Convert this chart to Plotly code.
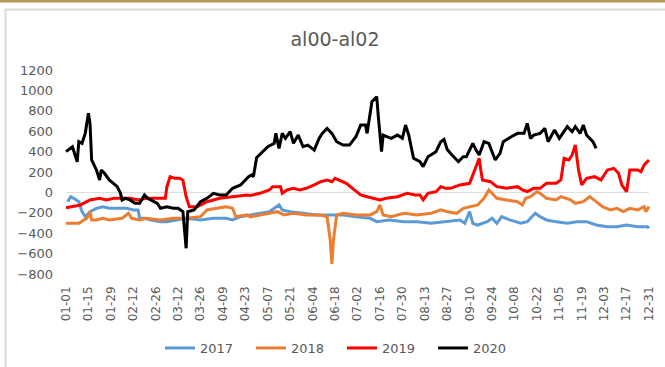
import pandas as pd
import plotly.graph_objects as go

# Calendar-day categories (MM-DD) for a 365-day year
categories = pd.date_range("2019-01-01", "2019-12-31", freq="D").strftime("%m-%d").tolist()
tick_labels = categories[::14]

# Spread al00-al02 by year: day-of-year index and value
days_2017 = [1, 3, 5, 8, 10, 12, 15, 19, 23, 27, 34, 38, 42, 45, 46, 49, 53, 59, 63, 69, 75, 84, 92,
             100, 104, 109, 115, 121, 127, 130, 133, 135, 140, 148, 156, 165, 173, 181, 190, 194,
             202, 211, 219, 228, 234, 240, 246, 249, 252, 254, 257, 263, 266, 269, 272, 277, 284,
             288, 293, 296, 300, 306, 313, 319, 325, 331, 338, 344, 350, 357, 363, 364]
vals_2017 = [-91, -42, -60, -91, -189, -238, -189, -156, -140, -156, -156, -156, -172, -172, -254,
             -254, -270, -287, -287, -270, -254, -270, -254, -254, -270, -238, -221, -205, -189,
             -156, -123, -172, -189, -205, -221, -221, -221, -238, -254, -287, -270, -287, -287,
             -303, -290, -280, -270, -303, -189, -303, -320, -287, -254, -303, -238, -270, -303,
             -287, -205, -238, -270, -287, -303, -287, -287, -320, -336, -336, -320, -336, -336, -352]

days_2018 = [0, 8, 13, 15, 16, 19, 23, 27, 35, 39, 41, 46, 50, 59, 67, 75, 84, 88, 94, 100, 104,
             106, 113, 115, 121, 127, 132, 136, 142, 150, 159, 163, 165, 166, 167, 169, 173, 181,
             190, 194, 196, 198, 203, 211, 219, 228, 234, 238, 244, 248, 252, 257, 261, 264, 266,
             269, 275, 282, 285, 287, 290, 294, 296, 300, 306, 309, 315, 318, 323, 327, 331, 335,
             340, 344, 348, 352, 357, 361, 362, 364]
vals_2018 = [-303, -303, -254, -189, -270, -270, -254, -270, -254, -205, -254, -270, -254, -270,
             -254, -254, -238, -172, -156, -140, -156, -238, -221, -240, -221, -205, -189, -221,
             -205, -221, -221, -238, -466, -700, -466, -221, -205, -221, -221, -189, -123, -221,
             -238, -205, -221, -205, -170, -189, -205, -156, -140, -123, -58, 24, -9, -58, -74,
             -91, -123, -58, -42, 7, -9, -58, -74, -42, -74, -107, -91, -42, -91, -140, -172,
             -156, -189, -156, -172, -140, -189, -140]

days_2019 = [0, 9, 15, 21, 25, 30, 35, 40, 45, 50, 55, 62, 63, 65, 68, 71, 73, 75, 77, 82, 88, 96,
             104, 113, 115, 121, 127, 129, 134, 135, 138, 142, 146, 150, 155, 159, 163, 166, 168,
             170, 175, 180, 184, 188, 192, 196, 200, 207, 213, 218, 221, 223, 226, 231, 234, 237,
             240, 246, 252, 255, 258, 259, 260, 265, 269, 275, 282, 285, 288, 292, 296, 300, 306,
             309, 311, 314, 316, 318, 320, 322, 325, 330, 334, 338, 342, 345, 347, 350, 352, 357,
             359, 361, 364]
vals_2019 = [-150, -123, -74, -58, -74, -58, -58, -58, -74, -58, -58, -58, 56, 154, 138, 138, 120,
             -42, -140, -140, -91, -58, -42, -25, -30, -9, 24, 56, 56, -9, 24, 40, 24, 40, 73, 105,
             122, 105, 138, 122, 89, 24, -25, -42, -58, -74, -58, -42, -9, -25, -25, -74, -9, 7,
             56, 40, 40, 73, 89, 220, 334, 220, 122, 105, 56, 40, 56, 24, 7, 40, 40, 89, 89, 122,
             334, 318, 367, 464, 220, 73, 138, 154, 122, 220, 236, 187, 73, 7, 220, 220, 203, 269,
             318]

days_2020 = [0, 4, 7, 8, 10, 12, 14, 15, 16, 19, 21, 22, 24, 27, 32, 34, 35, 37, 40, 43, 46, 49,
             51, 57, 59, 63, 67, 70, 73, 75, 76, 80, 84, 88, 92, 96, 100, 104, 109, 112, 114, 116,
             117, 119, 123, 126, 130, 131, 133, 135, 137, 140, 142, 145, 148, 151, 155, 158, 160,
             163, 166, 169, 173, 177, 181, 184, 187, 188, 191, 194, 195, 197, 198, 203, 207, 210,
             212, 214, 217, 221, 223, 226, 231, 234, 236, 238, 241, 245, 248, 250, 254, 256, 258,
             261, 264, 268, 271, 273, 278, 282, 286, 288, 290, 292, 296, 299, 301, 305, 308, 313,
             316, 318, 321, 323, 325, 329, 331]
vals_2020 = [400, 448, 300, 497, 481, 579, 775, 677, 318, 220, 122, 220, 187, 122, 56, -9, -74, -58,
             -74, -107, -107, -25, -58, -107, -156, -140, -156, -156, -189, -548, -189, -172, -91,
             -58, -9, -25, -25, 40, 73, 122, 154, 171, 154, 340, 399, 448, 481, 579, 432, 579, 530,
             595, 481, 562, 448, 464, 415, 530, 579, 628, 579, 497, 464, 464, 546, 660, 660, 579,
             889, 938, 742, 399, 562, 530, 562, 530, 660, 562, 334, 301, 252, 350, 399, 497, 520,
             420, 367, 301, 350, 350, 481, 415, 367, 497, 481, 318, 383, 497, 546, 579, 579, 677,
             530, 562, 579, 628, 497, 611, 530, 644, 595, 644, 579, 660, 562, 497, 432]

series = [
    ("2017", days_2017, vals_2017, "#5B9BD5"),
    ("2018", days_2018, vals_2018, "#ED7D31"),
    ("2019", days_2019, vals_2019, "#FF0000"),
    ("2020", days_2020, vals_2020, "#000000"),
]

W, H = 665, 367
ML, MR, MT, MB = 60, 10, 70, 93
PW, PH = W - ML - MR, H - MT - MB


def px_x(p):
    return (p - ML) / PW


def px_y(p):
    return (H - MB - p) / PH


fig = go.Figure()
for name, days, vals, color in series:
    fig.add_trace(go.Scatter(
        x=[categories[d] for d in days], y=vals, name=name, mode="lines",
        line=dict(color=color, width=3),
    ))

grey = "#595959"
fig.update_layout(
    width=W, height=H,
    margin=dict(l=ML, r=MR, t=MT, b=MB, autoexpand=False),
    paper_bgcolor="white", plot_bgcolor="white",
    font=dict(family="DejaVu Sans", color=grey),
    title=dict(text="al00-al02", x=335 / W, xanchor="center",
               y=1 - 39 / H, yanchor="middle",
               font=dict(size=19, color=grey, family="DejaVu Sans")),
    xaxis=dict(
        type="category", categoryorder="array", categoryarray=categories,
        range=[-3.75, 367.75], tickvals=tick_labels, ticktext=tick_labels,
        tickangle=-90, tickfont=dict(size=12, color=grey), ticks="",
        ticklabelstandoff=9, showgrid=False, zeroline=False, showline=False,
        automargin=False,
    ),
    yaxis=dict(
        range=[-800, 1200], dtick=200, tickfont=dict(size=13, color=grey),
        showgrid=False, zeroline=False, showline=False, ticks="",
        ticklabelstandoff=6, automargin=False,
    ),
    legend=dict(
        orientation="h", xref="container", yref="container",
        x=342 / W, xanchor="center", y=1 - 348 / H, yanchor="middle",
        font=dict(size=13, color=grey), entrywidth=46, entrywidthmode="pixels",
        bgcolor="rgba(0,0,0,0)",
    ),
    showlegend=True,
)

# horizontal axis line at zero, spanning first to last category
fig.add_shape(type="line", xref="x", yref="y", x0=0, x1=len(categories) - 1, y0=0, y1=0,
              line=dict(color="#D9D9D9", width=1), layer="below")

# chart frame: gold band at the top and the light grey border
fig.add_shape(type="rect", xref="paper", yref="paper",
              x0=px_x(0), x1=px_x(W), y0=px_y(0), y1=px_y(2.5),
              line=dict(width=0), fillcolor="#B8975A")
fig.add_shape(type="line", xref="paper", yref="paper",
              x0=px_x(5), x1=px_x(W), y0=px_y(9.5), y1=px_y(9.5),
              line=dict(color="#D9D9D9", width=2))
fig.add_shape(type="line", xref="paper", yref="paper",
              x0=px_x(5.5), x1=px_x(5.5), y0=px_y(9), y1=px_y(H),
              line=dict(color="#D9D9D9", width=2))

fig.write_html("out.html")
